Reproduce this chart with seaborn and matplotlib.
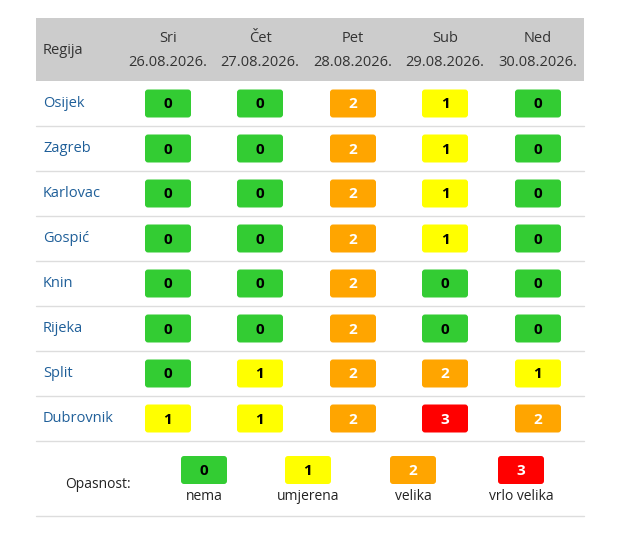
import matplotlib
matplotlib.use("Agg")
import matplotlib.pyplot as plt
from matplotlib.patches import FancyBboxPatch, Rectangle
import seaborn as sns

sns.set_style("white")
plt.rcParams['font.family'] = ['Open Sans', 'DejaVu Sans']

regions = ["Osijek", "Zagreb", "Karlovac", "Gospić", "Knin", "Rijeka", "Split", "Dubrovnik"]
days = ["Sri", "Čet", "Pet", "Sub", "Ned"]
dates = ["26.08.2026.", "27.08.2026.", "28.08.2026.", "29.08.2026.", "30.08.2026."]
levels = [
    [0, 0, 2, 1, 0],
    [0, 0, 2, 1, 0],
    [0, 0, 2, 1, 0],
    [0, 0, 2, 1, 0],
    [0, 0, 2, 0, 0],
    [0, 0, 2, 0, 0],
    [0, 1, 2, 2, 1],
    [1, 1, 2, 3, 2],
]
legend_labels = ["nema", "umjerena", "velika", "vrlo velika"]
colors = ["#33cc33", "#ffff00", "#ffa500", "#ff0000"]
text_colors = ["black", "black", "white", "white"]

fig = plt.figure(figsize=(6.22, 5.34), dpi=100)
ax = fig.add_axes([0, 0, 1, 1])
ax.set_xlim(0, 622)
ax.set_ylim(534, 0)
ax.axis("off")

left, right = 36, 584
col_x = [168, 260, 353, 445, 538]
row_h = 45
top = 81
bw, bh = 46, 28

def badge(cx, cy, lvl):
    ax.add_patch(FancyBboxPatch((cx - bw / 2, cy - bh / 2), bw, bh,
                                boxstyle="round,pad=0,rounding_size=3",
                                fc=colors[lvl], ec="none"))
    ax.text(cx, cy + 1, str(lvl), ha="center", va="center", fontsize=11,
            fontweight="bold", color=text_colors[lvl])

# header
ax.add_patch(Rectangle((left, 18), right - left, top - 18, fc="#cccccc", ec="none"))
ax.text(43, 51, "Regija", ha="left", va="center", fontsize=10.5, color="#333333")
for x, d, dt in zip(col_x, days, dates):
    ax.text(x, 39, d, ha="center", va="center", fontsize=10.5, color="#333333")
    ax.text(x, 62, dt, ha="center", va="center", fontsize=10.5, color="#333333")

for i, (reg, row) in enumerate(zip(regions, levels)):
    cy = top + row_h * i + row_h / 2
    ax.text(43, cy, reg, ha="left", va="center", fontsize=10.5, color="#1f5f99")
    for x, lvl in zip(col_x, row):
        badge(x, cy, lvl)
    ax.plot([left, right], [top + row_h * (i + 1)] * 2, color="#dddddd", lw=1)

# legend
leg_x = [204, 308, 413, 521]
ax.text(98, 485, "Opasnost:", ha="center", va="center", fontsize=10, color="#222222")
for lvl, (x, lab) in enumerate(zip(leg_x, legend_labels)):
    badge(x, 470, lvl)
    ax.text(x, 497, lab, ha="center", va="center", fontsize=10, color="#222222")
ax.plot([left, right], [516, 516], color="#dddddd", lw=1)

fig.savefig("out.png", dpi=100)
